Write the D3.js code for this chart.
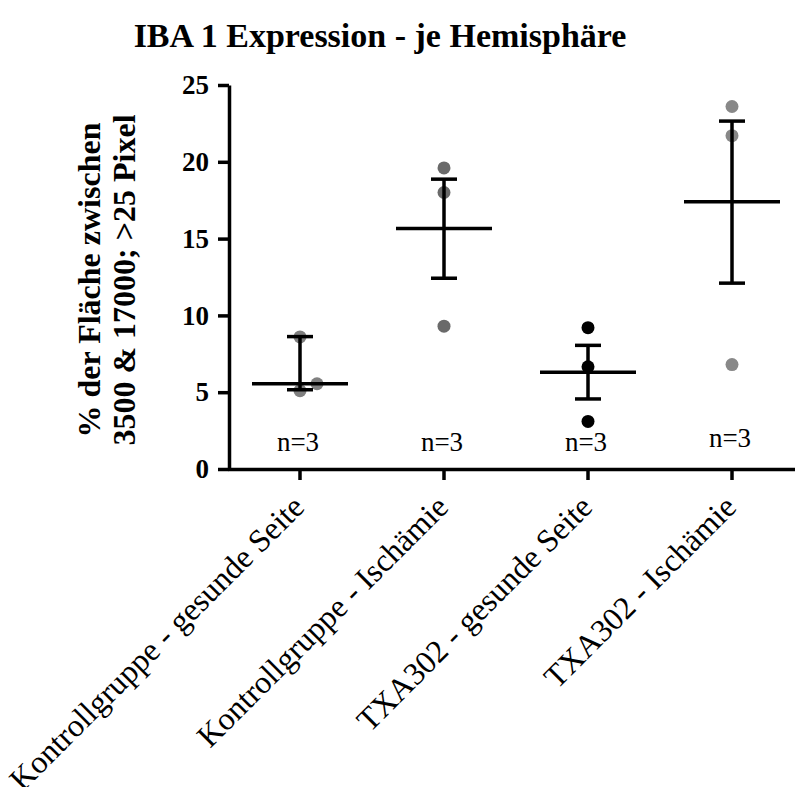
<!DOCTYPE html>
<html>
<head>
<meta charset="utf-8">
<script src="https://cdn.jsdelivr.net/npm/d3@7"></script>
<style>
  body { margin: 0; background: #fff; }
  svg { display: block; font-family: "Liberation Serif", "Times New Roman", serif; }
</style>
</head>
<body>
<div id="chart"></div>
<script>
// Groups on the x axis
var categories = [
  "Kontrollgruppe - gesunde Seite",
  "Kontrollgruppe - Ischämie",
  "TXA302 - gesunde Seite",
  "TXA302 - Ischämie"
];

// Single values per group
var points = [
  [8.6, 5.1, 5.55],
  [19.6, 18.0, 9.3],
  [9.2, 6.65, 3.1],
  [23.6, 21.7, 6.8]
];

// Mean line and error bar ends per group
var means = [5.55, 15.65, 6.3, 17.4];
var errHigh = [8.62, 18.87, 8.05, 22.65];
var errLow = [5.16, 12.42, 4.56, 12.1];

// n labels
var nLabels = ["n=3", "n=3", "n=3", "n=3"];

// y tick values
var yTicks = [0, 5, 10, 15, 20, 25];

// layout helpers (pixel offsets, not data)
var pointShift = [[0, 0, 17], [0, 0, 0], [0, 0, 0], [0, 0, 0]];
var nLabelLift = [0, 0, 0, 4];
var pointColors = ["#808080", "#6a6a6a", "#000000", "#888888"];

var svgWidth = 795;
var svgHeight = 787;

var margin = { top: 85, left: 228, bottom: 318 };
var axisY = 469;

var svg = d3.select("#chart")
  .append("svg")
  .attr("width", svgWidth)
  .attr("height", svgHeight);

svg.append("rect")
  .attr("width", svgWidth)
  .attr("height", svgHeight)
  .attr("fill", "#fff");

// scales
var x = d3.scaleBand()
  .domain(categories)
  .range([228, 804])
  .padding(0);

var y = d3.scaleLinear()
  .domain([0, 25])
  .range([axisY, margin.top]);

var color = d3.scaleOrdinal()
  .domain(categories)
  .range(pointColors);

var cx = function(c) { return x(c) + x.bandwidth() / 2; };

// title
svg.append("text")
  .attr("x", 380)
  .attr("y", 47)
  .attr("text-anchor", "middle")
  .attr("font-size", 34)
  .attr("font-weight", "bold")
  .text("IBA 1 Expression - je Hemisphäre");

// y axis title (two lines)
var yTitle = svg.append("text")
  .attr("transform", "translate(0, 280) rotate(-90)")
  .attr("text-anchor", "middle")
  .attr("font-size", 32)
  .attr("font-weight", "bold");
yTitle.append("tspan").attr("x", 0).attr("y", 100).text("% der Fläche zwischen");
yTitle.append("tspan").attr("x", 0).attr("y", 135).text("3500 & 17000; >25 Pixel");

// y axis
var leftAxis = d3.axisLeft(y)
  .tickValues(yTicks)
  .tickSize(11)
  .tickSizeOuter(0)
  .tickPadding(9);

var gy = svg.append("g")
  .attr("transform", "translate(229, 0)")
  .call(leftAxis);
gy.select(".domain").attr("stroke-width", 3.5);
gy.selectAll(".tick line").attr("stroke-width", 3.5);
gy.selectAll(".tick text")
  .attr("font-size", 27)
  .attr("font-weight", "bold")
  .attr("font-family", "Liberation Serif, serif")
  .attr("fill", "#000");

// x axis
var bottomAxis = d3.axisBottom(x)
  .tickSize(11)
  .tickSizeOuter(0);

var gx = svg.append("g")
  .attr("transform", "translate(0, " + axisY + ")")
  .call(bottomAxis);
gx.select(".domain").attr("stroke-width", 3.5);
gx.selectAll(".tick line").attr("stroke-width", 3.5);
gx.selectAll(".tick text")
  .attr("font-size", 32)
  .attr("font-family", "Liberation Serif, serif")
  .attr("fill", "#000")
  .attr("text-anchor", "end")
  .attr("x", 0)
  .attr("y", 0)
  .attr("dy", 0)
  .attr("transform", "translate(6, 40) rotate(-45)");

// data points
categories.forEach(function(c, i) {
  svg.selectAll(".pt-" + i)
    .data(points[i])
    .enter()
    .append("circle")
    .attr("class", "pt-" + i)
    .attr("cx", function(d, j) { return cx(c) + pointShift[i][j]; })
    .attr("cy", function(d) { return y(d); })
    .attr("r", 6.5)
    .attr("fill", color(c));
});

// mean and error bars
var bars = svg.selectAll(".bar")
  .data(categories)
  .enter()
  .append("g")
  .attr("class", "bar")
  .attr("stroke", "#000")
  .attr("stroke-width", 3.5);

bars.append("line")
  .attr("x1", function(d) { return cx(d) - 48; })
  .attr("x2", function(d) { return cx(d) + 48; })
  .attr("y1", function(d, i) { return y(means[i]); })
  .attr("y2", function(d, i) { return y(means[i]); });

bars.append("line")
  .attr("x1", function(d) { return cx(d); })
  .attr("x2", function(d) { return cx(d); })
  .attr("y1", function(d, i) { return y(errLow[i]); })
  .attr("y2", function(d, i) { return y(errHigh[i]); });

bars.append("line")
  .attr("x1", function(d) { return cx(d) - 13; })
  .attr("x2", function(d) { return cx(d) + 13; })
  .attr("y1", function(d, i) { return y(errHigh[i]); })
  .attr("y2", function(d, i) { return y(errHigh[i]); });

bars.append("line")
  .attr("x1", function(d) { return cx(d) - 13; })
  .attr("x2", function(d) { return cx(d) + 13; })
  .attr("y1", function(d, i) { return y(errLow[i]); })
  .attr("y2", function(d, i) { return y(errLow[i]); });

// n labels
svg.selectAll(".nlabel")
  .data(categories)
  .enter()
  .append("text")
  .attr("class", "nlabel")
  .attr("x", function(d) { return cx(d) - 2; })
  .attr("y", function(d, i) { return axisY - 18 - nLabelLift[i]; })
  .attr("text-anchor", "middle")
  .attr("font-size", 27)
  .text(function(d, i) { return nLabels[i]; });
</script>
</body>
</html>
